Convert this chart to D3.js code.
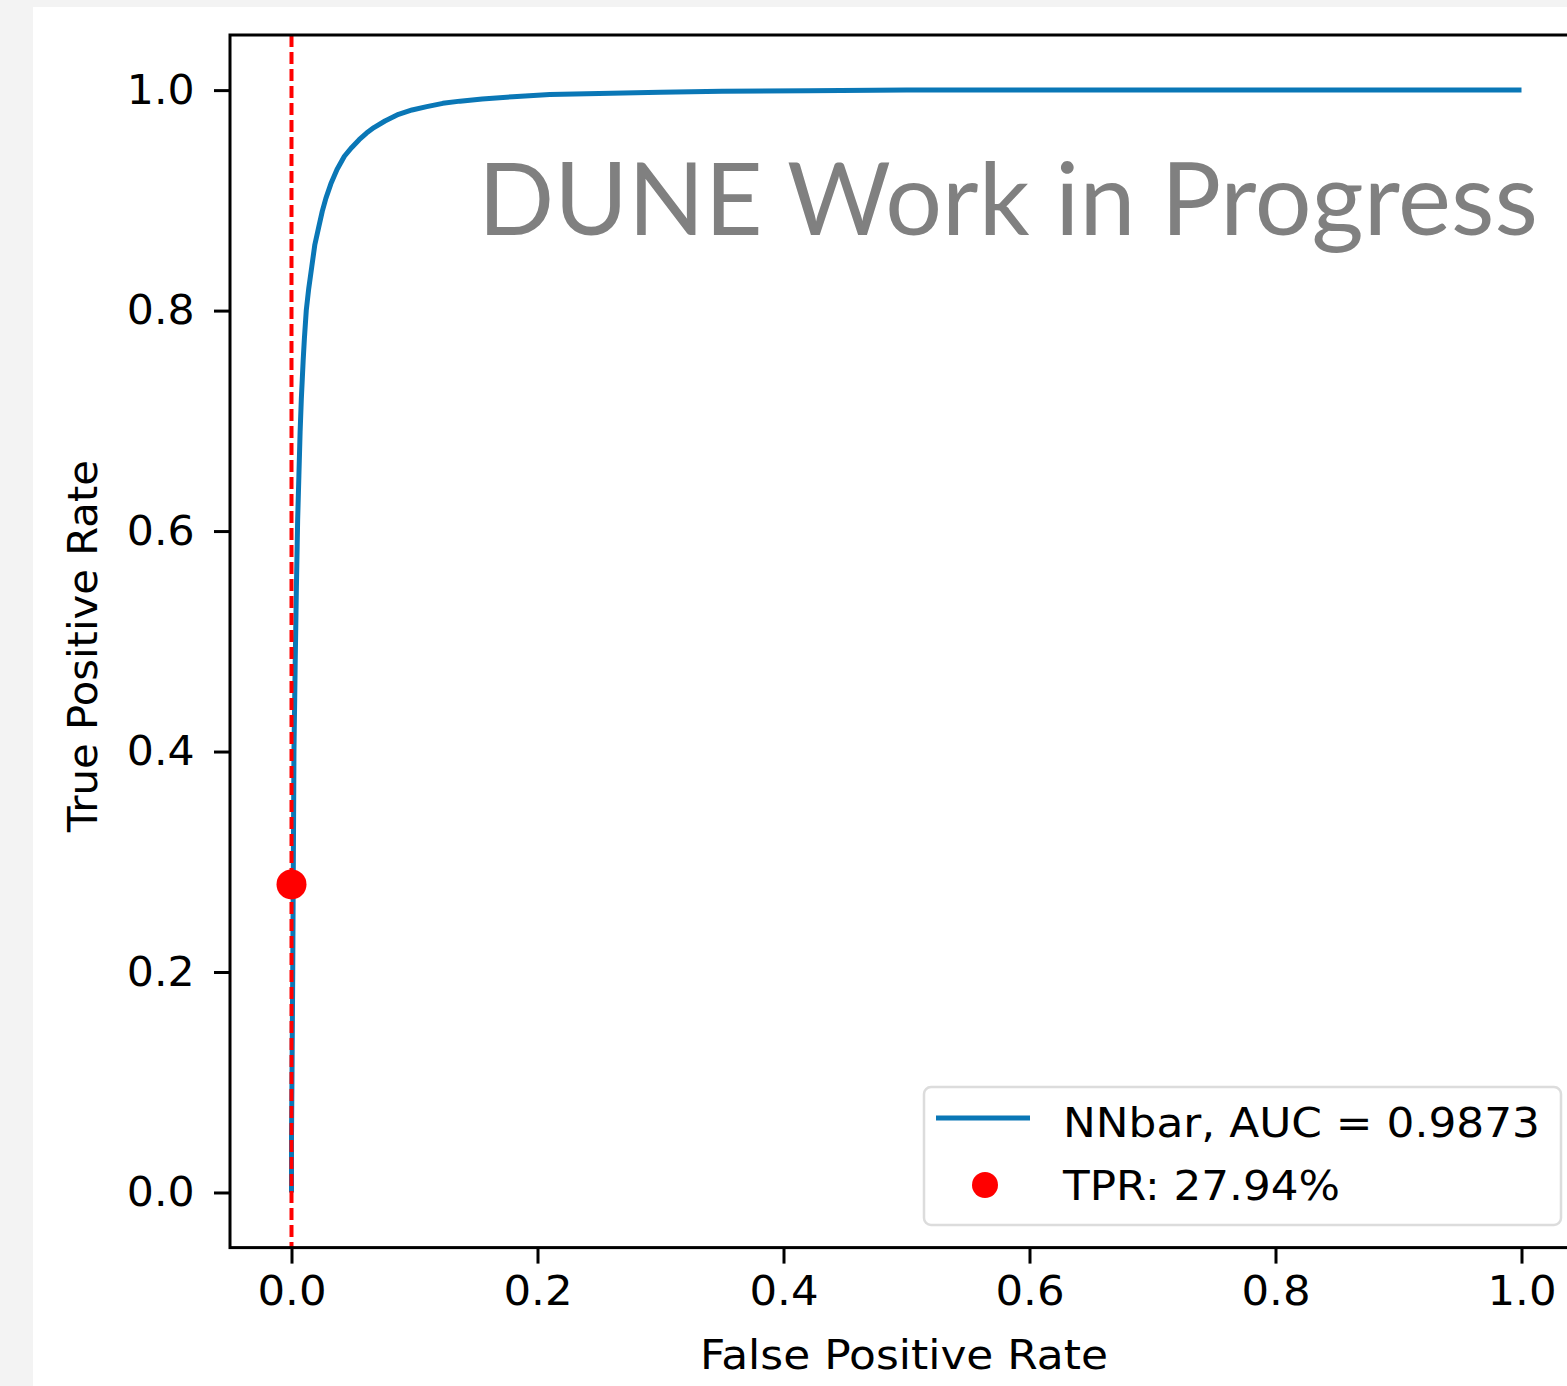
<!DOCTYPE html>
<html><head><meta charset="utf-8">
<script src="https://cdn.jsdelivr.net/npm/d3@7"></script>
<style>html,body{margin:0;padding:0;background:#f3f3f3;}svg{display:block;}</style>
</head><body>
<svg id="c" width="1567" height="1386"></svg>
<script>
// ROC curve points
const fpr = [0, 0.0, 0.0005, 0.001, 0.0015, 0.002, 0.003, 0.004, 0.005, 0.006, 0.007, 0.008, 0.0095, 0.0105, 0.012, 0.014, 0.0165, 0.019, 0.022, 0.025, 0.028, 0.032, 0.037, 0.043, 0.049, 0.055, 0.061, 0.067, 0.076, 0.087, 0.098, 0.11, 0.123, 0.137, 0.155, 0.18, 0.21, 0.25, 0.3, 0.35, 0.42, 0.5, 0.6, 0.7, 0.8, 0.9, 1.0];
const tpr = [0, 0.05, 0.12, 0.2, 0.3, 0.4, 0.48, 0.55, 0.61, 0.65, 0.69, 0.72, 0.755, 0.775, 0.80, 0.82, 0.84, 0.86, 0.875, 0.89, 0.902, 0.915, 0.928, 0.94, 0.948, 0.955, 0.961, 0.966, 0.972, 0.978, 0.982, 0.985, 0.988, 0.99, 0.992, 0.994, 0.996, 0.997, 0.998, 0.999, 0.9995, 1.0, 1.0, 1.0, 1.0, 1.0, 1.0];
const xTicks = [0, 0.2, 0.4, 0.6, 0.8, 1.0];
const yTicks = [0, 0.2, 0.4, 0.6, 0.8, 1.0];
const cutFpr = 0.0;
const cutTpr = 0.2794;
const aucLabel = "NNbar, AUC = 0.9873";
const tprLabel = "TPR: 27.94%";
const watermark = "DUNE Work in Progress";

const svg = d3.select("#c");
const W = 1567, H = 1386;
svg.append("rect").attr("x",33).attr("y",7).attr("width",W-33).attr("height",H-7).attr("fill","#fff");

const x = d3.scaleLinear().domain([-0.05,1.05]).range([230,1583]);
const y = d3.scaleLinear().domain([-0.05,1.05]).range([1247.6,35]);
const font = "'DejaVu Sans', sans-serif";
const fs = "41px";
const blue = "#0a77b6";

const g = svg.append("g");
svg.append("defs").append("clipPath").attr("id","clip").append("rect")
  .attr("x",x(-0.05)).attr("y",y(1.05)).attr("width",x(1.05)-x(-0.05)).attr("height",y(-0.05)-y(1.05));

const plot = g.append("g").attr("clip-path","url(#clip)");
const pts = fpr.map((f,i)=>[f,tpr[i]]);
plot.append("path").datum(pts)
  .attr("d", d3.line().x(d=>x(d[0])).y(d=>y(d[1])))
  .attr("fill","none").attr("stroke",blue).attr("stroke-width",5).attr("stroke-linejoin","round");

plot.append("line").attr("x1",x(cutFpr)).attr("x2",x(cutFpr)).attr("y1",y(1.05)).attr("y2",y(-0.05))
  .attr("stroke","#ff0000").attr("stroke-width",4).attr("stroke-dasharray","12,5");

plot.append("circle").attr("cx",x(cutFpr)).attr("cy",y(cutTpr)).attr("r",15).attr("fill","#ff0000");

// watermark
g.append("text").attr("x",478).attr("y",235).attr("fill","#808080")
  .style("font-family","Lato, 'Noto Sans', sans-serif").style("font-size","100px")
  .attr("textLength",1060).attr("lengthAdjust","spacingAndGlyphs")
  .text(watermark);

// axes
const xAxis = d3.axisBottom(x).tickValues(xTicks).tickSize(16).tickPadding(12).tickFormat(d3.format(".1f"));
const yAxis = d3.axisLeft(y).tickValues(yTicks).tickSize(16).tickPadding(18).tickFormat(d3.format(".1f"));
const gx = g.append("g").attr("transform",`translate(0,${y(-0.05)})`).call(xAxis);
const gy = g.append("g").attr("transform",`translate(${x(-0.05)},0)`).call(yAxis);
[gx,gy].forEach(a=>{
  a.select(".domain").remove();
  a.selectAll(".tick line").attr("stroke","#000").attr("stroke-width",3);
  a.selectAll(".tick text").style("font-family",font).style("font-size",fs).attr("fill","#000");
});
gx.selectAll(".tick text").attr("transform","scale(1.06,1)");
gy.selectAll(".tick text").attr("transform","scale(1.04,1)");
// spines
g.append("rect").attr("x",x(-0.05)).attr("y",y(1.05)).attr("width",x(1.05)-x(-0.05)).attr("height",y(-0.05)-y(1.05))
  .attr("fill","none").attr("stroke","#000").attr("stroke-width",3);

g.append("text").attr("x",700).attr("y",1369)
  .attr("textLength",408).attr("lengthAdjust","spacingAndGlyphs")
  .style("font-family",font).style("font-size",fs).text("False Positive Rate");
g.append("text").attr("transform","translate(97,832) rotate(-90)")
  .attr("textLength",372).attr("lengthAdjust","spacingAndGlyphs")
  .style("font-family",font).style("font-size",fs).text("True Positive Rate");

// legend
const lg = g.append("g");
lg.append("rect").attr("x",924).attr("y",1087).attr("width",637).attr("height",138).attr("rx",7)
  .attr("fill","#fff").attr("fill-opacity",0.8).attr("stroke","#dcdcdc").attr("stroke-width",2.5);
lg.append("line").attr("x1",936).attr("x2",1030).attr("y1",1118).attr("y2",1118).attr("stroke",blue).attr("stroke-width",5);
lg.append("circle").attr("cx",985).attr("cy",1185).attr("r",13).attr("fill","#ff0000");
lg.append("text").attr("x",1063).attr("y",1137).attr("textLength",477).attr("lengthAdjust","spacingAndGlyphs")
  .style("font-family",font).style("font-size",fs).text(aucLabel);
lg.append("text").attr("x",1063).attr("y",1200).attr("textLength",277).attr("lengthAdjust","spacingAndGlyphs")
  .style("font-family",font).style("font-size",fs).text(tprLabel);
</script>
</body></html>
